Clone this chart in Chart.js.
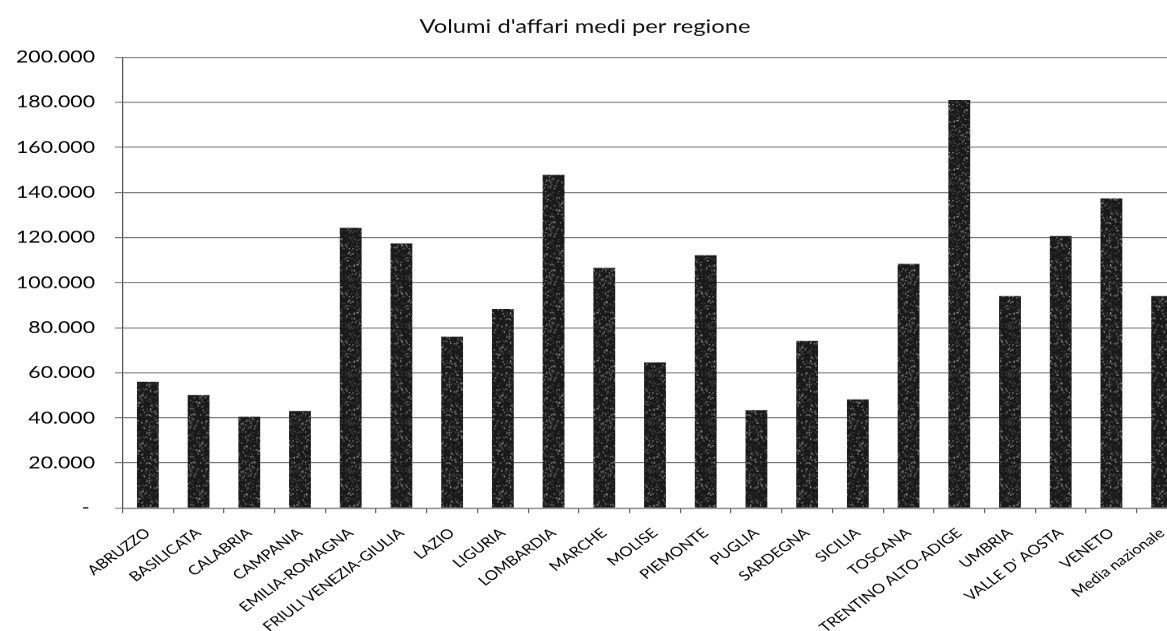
<!DOCTYPE html>
<html>
<head>
<meta charset="utf-8">
<script src="https://cdn.jsdelivr.net/npm/chart.js@4.4.1/dist/chart.umd.min.js"></script>
<style>
  html, body { margin: 0; padding: 0; background: #ffffff; overflow: hidden; width: 1167px; height: 631px; }
  /* the chart is laid out at 960px and widened horizontally to its printed proportions */
  #stage { position: absolute; left: 0; top: 0; width: 960px; height: 631px; transform: scaleX(1.25); transform-origin: 0 0; }
  canvas { display: block; }
</style>
</head>
<body>
<div id="stage"><canvas id="chart" width="960" height="631"></canvas></div>
<script>
const TITLE = "Volumi d'affari medi per regione";

const regions = [
  "ABRUZZO", "BASILICATA", "CALABRIA", "CAMPANIA", "EMILIA-ROMAGNA",
  "FRIULI VENEZIA-GIULIA", "LAZIO", "LIGURIA", "LOMBARDIA", "MARCHE",
  "MOLISE", "PIEMONTE", "PUGLIA", "SARDEGNA", "SICILIA", "TOSCANA",
  "TRENTINO ALTO-ADIGE", "UMBRIA", "VALLE D' AOSTA", "VENETO", "Media nazionale"
];

// average business volume per region (euro)
const volumes = [
  56000, 50100, 40400, 43000, 124300,
  117300, 76000, 88200, 147800, 106500,
  64600, 112100, 43400, 74100, 48200, 108300,
  180900, 94000, 120600, 137300, 94000
];

const yMin = 0;
const yMax = 200000;
const yStep = 20000;

const STRETCH = 1.25;
const PLOT_LEFT = 98;
const PLOT_TOP = 57;
const PLOT_BOTTOM = 507.5;
const CANVAS_H = 631;

// Italian thousands separator; zero shown as a dash
function formatIt(v) {
  if (v === 0) return '- ';
  return String(v).replace(/\B(?=(\d{3})+(?!\d))/g, '.');
}

// speckled dark fill for the bars (deterministic hash)
function grainPattern() {
  const size = 48;
  const c = document.createElement('canvas');
  c.width = c.height = size;
  const g = c.getContext('2d');
  g.fillStyle = '#1a1a1a';
  g.fillRect(0, 0, size, size);
  let h = 2166136261;
  for (let y = 0; y < size; y++) {
    for (let x = 0; x < size; x++) {
      h = (Math.imul(h ^ ((x * 73856093) ^ (y * 19349663)), 16777619)) >>> 0;
      const r = h % 100;
      if (r < 13) {
        g.fillStyle = r < 4 ? '#a8a8a8' : '#5e5e5e';
        g.fillRect(x, y, 1, 1);
      }
    }
  }
  return g.createPattern(c, 'repeat');
}

const heading = {
  id: 'heading',
  afterDraw(chart) {
    const ctx = chart.ctx;
    ctx.save();
    ctx.font = '19px Lato';
    ctx.fillStyle = '#111111';
    ctx.textAlign = 'center';
    ctx.textBaseline = 'middle';
    ctx.fillText(TITLE, 468, 27);
    ctx.restore();
  }
};

new Chart(document.getElementById('chart'), {
  type: 'bar',
  data: {
    labels: regions,
    datasets: [{
      data: volumes,
      backgroundColor: grainPattern(),
      borderWidth: 0,
      barPercentage: 0.43,
      categoryPercentage: 1
    }]
  },
  options: {
    responsive: false,
    animation: false,
    devicePixelRatio: STRETCH,
    layout: { padding: { top: PLOT_TOP, left: 0, right: 10, bottom: 0 } },
    plugins: {
      legend: { display: false },
      tooltip: { enabled: false },
      title: { display: false }
    },
    scales: {
      x: {
        grid: { display: true, drawOnChartArea: false, drawTicks: true, tickLength: 5, color: '#666666', offset: true },
        border: { display: true, color: '#666666' },
        ticks: {
          autoSkip: false, minRotation: 42, maxRotation: 42,
          font: { family: 'Lato', size: 13.3 }, color: '#000000', padding: 12
        },
        afterFit(scale) { scale.height = CANVAS_H - PLOT_BOTTOM; }
      },
      y: {
        min: yMin,
        max: yMax,
        ticks: {
          stepSize: yStep,
          callback: (v) => formatIt(v),
          font: { family: 'Lato', size: 17 },
          color: '#000000',
          padding: 16
        },
        grid: { color: '#707070', lineWidth: 1, tickLength: 6 },
        border: { display: true, color: '#555555' },
        afterFit(scale) { scale.width = PLOT_LEFT; }
      }
    }
  },
  plugins: [heading]
});
</script>
</body>
</html>
